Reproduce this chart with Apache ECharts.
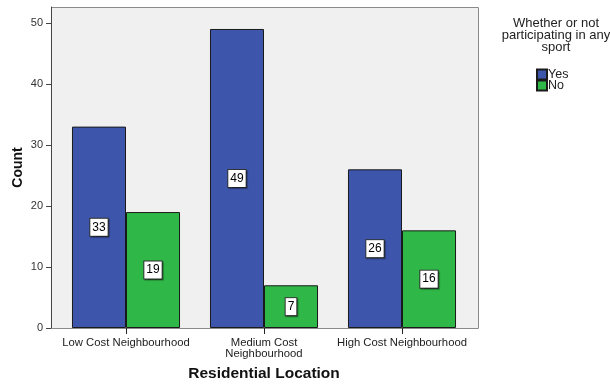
<!DOCTYPE html>
<html>
<head>
<meta charset="utf-8">
<script src="https://cdn.jsdelivr.net/npm/echarts@6/dist/echarts.min.js"></script>
<style>
  html, body { margin: 0; padding: 0; background: #fff; }
  #chart { width: 610px; height: 386px; }
</style>
</head>
<body>
<div id="chart"></div>
<script>
// Residential location vs. sport participation (counts)
var categories = ['Low Cost Neighbourhood', 'Medium Cost\nNeighbourhood', 'High Cost Neighbourhood'];
var yesCounts = [33, 49, 26];
var noCounts = [19, 7, 16];
var yTicks = [0, 10, 20, 30, 40, 50];

var FONT = 'Liberation Sans, Arial, sans-serif';

var labelStyle = {
  show: true,
  position: 'inside',
  color: '#000',
  fontFamily: FONT,
  fontSize: 12,
  lineHeight: 12,
  backgroundColor: '#fff',
  borderColor: '#333',
  borderWidth: 1,
  padding: [3, 2, 2, 2],
  shadowColor: 'rgba(0,0,0,0.35)',
  shadowBlur: 1,
  shadowOffsetX: 1,
  shadowOffsetY: 1
};

// Plot frame (background + border) spans a little wider than the category band
var frame = { x: 51, y: 7, w: 427, h: 321 };

var chart = echarts.init(document.getElementById('chart'), null, { renderer: 'canvas' });
chart.setOption({
  animation: false,
  backgroundColor: '#fff',
  graphic: [{
    type: 'rect',
    z: -10,
    silent: true,
    shape: { x: frame.x + 0.5, y: frame.y + 0.5, width: frame.w, height: frame.h },
    style: { fill: '#f0f0f0', stroke: '#8a8a8a', lineWidth: 1 }
  }],
  title: {
    text: 'Whether or not\nparticipating in any\nsport',
    left: 551,
    top: 12,
    textAlign: 'center',
    textStyle: {
      fontFamily: FONT,
      fontSize: 13,
      fontWeight: 'normal',
      color: '#222',
      lineHeight: 12
    }
  },
  legend: {
    orient: 'vertical',
    left: 531,
    top: 63,
    itemWidth: 10,
    itemHeight: 10,
    itemGap: -2,
    icon: 'rect',
    textStyle: { fontFamily: FONT, fontSize: 12.5, lineHeight: 11, color: '#222', padding: [0, 0, 0, -4] },
    data: ['Yes', 'No']
  },
  grid: {
    left: 57,
    right: 139,
    top: 7,
    bottom: 58,
    show: false,
    outerBoundsMode: 'none'
  },
  xAxis: {
    type: 'category',
    data: categories,
    name: 'Residential Location',
    nameLocation: 'middle',
    nameGap: 38,
    nameTextStyle: { fontFamily: FONT, fontSize: 15.5, fontWeight: 'bold', color: '#111' },
    axisLine: { show: false },
    axisTick: { show: true, alignWithLabel: true, length: 6, lineStyle: { color: '#222' } },
    axisLabel: { fontFamily: FONT, fontSize: 11.3, color: '#222', margin: 9, lineHeight: 11, interval: 0 }
  },
  yAxis: {
    type: 'value',
    min: 0,
    max: 52.6,
    interval: 10,
    offset: 6,
    name: 'Count',
    nameLocation: 'middle',
    nameGap: 26,
    nameMoveOverlap: false,
    nameTextStyle: { fontFamily: FONT, fontSize: 14, fontWeight: 'bold', color: '#111' },
    axisLine: { show: true, lineStyle: { color: '#444', width: 1 } },
    axisTick: { show: true, length: 5, customValues: yTicks, lineStyle: { color: '#444' } },
    axisLabel: { fontFamily: FONT, fontSize: 11, color: '#333', margin: 8, customValues: yTicks },
    splitLine: { show: false }
  },
  series: [
    {
      name: 'Yes',
      type: 'bar',
      data: yesCounts,
      barGap: '0%',
      barCategoryGap: '21.7%',
      itemStyle: { color: '#3d56ac', borderColor: '#1a1a1a', borderWidth: 1 },
      label: labelStyle
    },
    {
      name: 'No',
      type: 'bar',
      data: noCounts,
      barGap: '0%',
      barCategoryGap: '21.7%',
      itemStyle: { color: '#2fb847', borderColor: '#1a1a1a', borderWidth: 1 },
      label: labelStyle
    }
  ]
});
</script>
</body>
</html>
